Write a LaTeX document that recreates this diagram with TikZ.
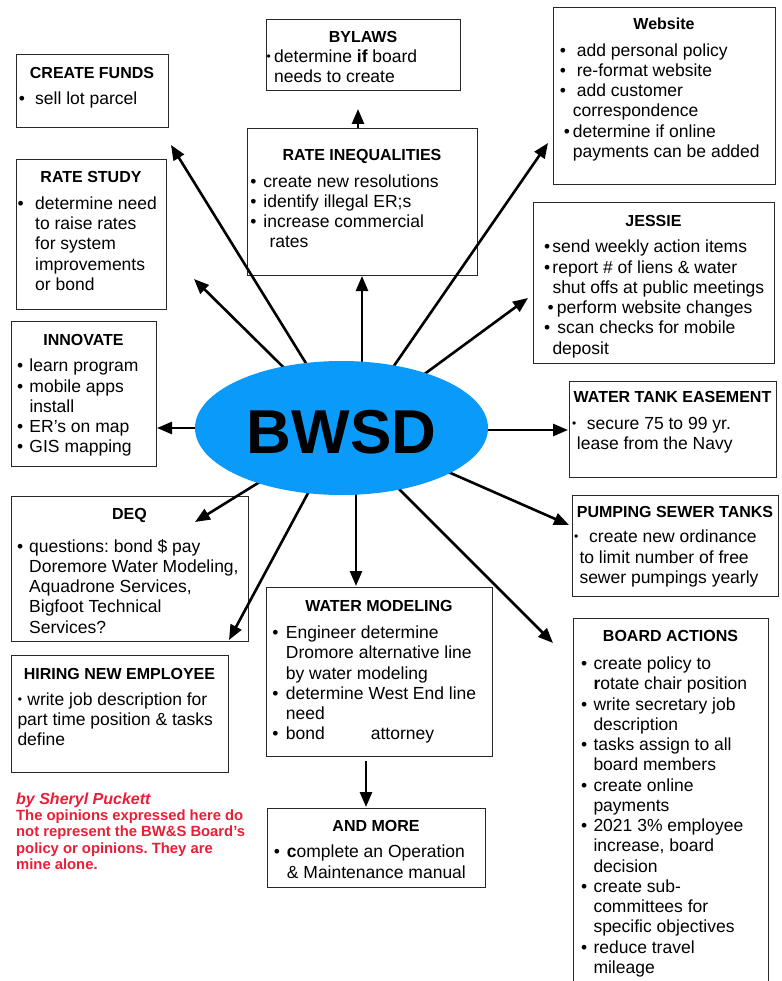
\documentclass[tikz,border=0pt]{standalone}
\usepackage{fontspec}
\setmainfont{Liberation Sans}
\usetikzlibrary{arrows.meta,shapes.geometric}
\definecolor{bwblue}{RGB}{10,155,250}
\definecolor{bwred}{RGB}{235,30,55}
\definecolor{boxline}{RGB}{40,40,40}
\frenchspacing
\newcommand\blkk[2]{\vtop{\baselineskip=#1pt\lineskiplimit=-30pt\lineskip=0pt\halign{##\hfil\cr#2\crcr}}}
\newcommand\bd[2]{\hspace*{#1pt}\makebox[0pt]{\textbullet}\hspace*{#2pt}}
\newcommand\sd[2]{\hspace*{#1pt}\makebox[0pt]{\raisebox{1.9pt}{\fontsize{12}{12}\selectfont\textbullet}}\hspace*{#2pt}}
\newcommand\ind[1]{\hspace*{#1pt}}
\tikzset{
  bx/.style={draw=boxline, line width=1.3pt, rectangle, inner sep=0pt, anchor=north west},
  ttl/.style={font=\bfseries\fontsize{16}{19}\selectfont, anchor=base, inner sep=0pt},
  bdy/.style={font=\fontsize{17.5}{20.25}\selectfont, anchor=base west, inner sep=0pt},
  arr/.style={line width=2.6pt, -{Triangle[length=15pt,width=12pt]}},
}
\begin{document}
\begin{tikzpicture}[x=1pt,y=-1pt]
\useasboundingbox (0,0) rectangle (781,981);
\clip (0,0) rectangle (781,981);

% ---------- boxes ----------
\node[bx, minimum width=152pt, minimum height=73pt] (cf) at (16,54) {};
\node[ttl] (cf-t) at (92,78.7) {CREATE FUNDS};
\node[bdy] (cf-b) at (21.7,104.5) {\blkk{20.25}{\bd{0}{13.3}sell lot parcel}};

\node[bx, minimum width=194pt, minimum height=71pt] (by) at (266,19) {};
\node[ttl] (by-t) at (363,43) {BYLAWS};
\node[bdy] (by-b) at (268.5,62.2) {\blkk{20.25}{\sd{0}{5.5}determine \textbf{if} board\cr \ind{5.5}needs to create}};

\node[bx, minimum width=230pt, minimum height=147pt] (ri) at (247,128) {};
\node[ttl] (ri-t) at (362,160.7) {RATE INEQUALITIES};
\node[bdy] (ri-b) at (253.3,187.2) {\blkk{20.25}{\bd{0}{10}create new resolutions\cr
\bd{0}{10}identify illegal ER;s\cr
\bd{0}{10}increase commercial\cr
\ind{16}rates}};

\node[bx, minimum width=150pt, minimum height=150pt] (rs) at (16,159) {};
\node[ttl] (rs-t) at (91,182.4) {RATE STUDY};
\node[bdy] (rs-b) at (20.5,209.5) {\blkk{20.25}{\bd{0}{14.5}determine need\cr
\ind{14.5}to raise rates\cr
\ind{14.5}for system\cr
\ind{14.5}improvements\cr
\ind{14.5}or bond}};

\node[bx, minimum width=222pt, minimum height=177pt] (web) at (553,7) {};
\node[ttl] (web-t) at (664,29.7) {Website};
\node[bdy] (web-b) at (562.7,56.2) {\blkk{20.25}{\bd{0}{14}add personal policy\cr
\bd{0}{14}re-format website\cr
\bd{0}{14}add customer\cr
\ind{10}correspondence\cr
\bd{4}{6}determine if online\cr
\ind{10}payments can be added}};

\node[bx, minimum width=241pt, minimum height=161pt] (jes) at (533,202) {};
\node[ttl] (jes-t) at (653.5,226.7) {JESSIE};
\node[bdy] (jes-b) at (547,252.8) {\blkk{20.25}{\bd{0}{5.3}send weekly action items\cr
\bd{0}{5.3}report \# of liens \& water\cr
\ind{5.3}shut offs at public meetings\cr
\bd{3.5}{6.2}perform website changes\cr
\bd{0}{10.3}scan checks for mobile\cr
\ind{5.3}deposit}};

\node[bx, minimum width=145pt, minimum height=145pt] (inn) at (11,321) {};
\node[ttl] (inn-t) at (83.5,345) {INNOVATE};
\node[bdy] (inn-b) at (20,371.8) {\blkk{20.25}{\bd{0}{9.3}learn program\cr
\bd{0}{9.3}mobile apps\cr
\ind{9.3}install\cr
\bd{0}{9.3}ER’s on map\cr
\bd{0}{9.3}GIS mapping}};

\node[bx, minimum width=207pt, minimum height=96pt] (wte) at (569,381) {};
\node[ttl] (wte-t) at (672.5,402.4) {WATER TANK EASEMENT};
\node[bdy] (wte-b) at (574,429.5) {\blkk{20.25}{\sd{0}{12.7}secure 75 to 99 yr.\cr
\ind{2.7}lease from the Navy}};

\node[bx, minimum width=206pt, minimum height=101pt] (pump) at (572,495) {};
\node[ttl] (pump-t) at (675,517.4) {PUMPING SEWER TANKS};
\node[bdy] (pump-b) at (576,542.8) {\blkk{20.25}{\sd{0}{13}create new ordinance\cr
\ind{3.3}to limit number of free\cr
\ind{3.3}sewer pumpings yearly}};

\node[bx, minimum width=237pt, minimum height=145pt] (deq) at (11,496) {};
\node[ttl] (deq-t) at (129.5,519) {DEQ};
\node[bdy] (deq-b) at (20,552.2) {\blkk{20.25}{\bd{0}{9}questions: bond \$ pay\cr
\ind{9}Doremore Water Modeling,\cr
\ind{9}Aquadrone Services,\cr
\ind{9}Bigfoot Technical\cr
\ind{9}Services?}};

\node[bx, minimum width=217pt, minimum height=117pt] (hire) at (11,655) {};
\node[ttl] (hire-t) at (119.5,679) {HIRING NEW EMPLOYEE};
\node[bdy] (hire-b) at (17.3,705.2) {\blkk{20.25}{\sd{2.5}{7.4}write job description for\cr
part time position \& tasks\cr
define}};

\node[bx, minimum width=226pt, minimum height=169pt] (wm) at (266,587) {};
\node[ttl] (wm-t) at (379,611.7) {WATER MODELING};
\node[bdy] (wm-b) at (275.3,638.5) {\blkk{20.25}{\bd{0}{10.4}Engineer determine\cr
\ind{10.4}Dromore alternative line\cr
\ind{10.4}by water modeling\cr
\bd{0}{10.4}determine West End line\cr
\ind{10.4}need\cr
\bd{0}{10.4}\rlap{bond}\hspace*{85pt}attorney}};

\node[bx, minimum width=218pt, minimum height=79pt] (am) at (267,808) {};
\node[ttl] (am-t) at (376,831.7) {AND MORE};
\node[bdy] (am-b) at (276.7,857.8) {\blkk{20.25}{\bd{0}{10}\textbf{c}omplete an Operation\cr
\ind{10}\& Maintenance manual}};

\node[bx, minimum width=195pt, minimum height=400pt] (ba) at (573,618) {};
\node[ttl] (ba-t) at (670.5,641.7) {BOARD ACTIONS};
\node[bdy] (ba-b) at (584,669.5) {\blkk{20.25}{\bd{0}{9.3}create policy to\cr
\ind{9.3}\textbf{r}otate chair position\cr
\bd{0}{9.3}write secretary job\cr
\ind{9.3}description\cr
\bd{0}{9.3}tasks assign to all\cr
\ind{9.3}board members\cr
\bd{0}{9.3}create online\cr
\ind{9.3}payments\cr
\bd{0}{9.3}2021 3\% employee\cr
\ind{9.3}increase, board\cr
\ind{9.3}decision\cr
\bd{0}{9.3}create sub-\cr
\ind{9.3}committees for\cr
\ind{9.3}specific objectives\cr
\bd{0}{9.3}reduce travel\cr
\ind{9.3}mileage}};

% ---------- author note ----------
\node[anchor=base west, inner sep=0pt, text=bwred, font=\bfseries\fontsize{14.8}{16.4}\selectfont] (note) at (16,804)
 {\blkk{16.4}{{\fontsize{16}{16}\selectfont\itshape by Sheryl Puckett}\cr
 The opinions expressed here do\cr
 not represent the BW\&S Board’s\cr
 policy or opinions. They are\cr
 mine alone.}};

% ---------- connectors ----------
\coordinate (sCF) at (346,428);  \coordinate (tCF) at (171,145);
\coordinate (sRS) at (345,428);  \coordinate (tRS) at (194,279);
\coordinate (tRI) at (362,276);
\coordinate (tBY) at (358,109);
\coordinate (sWEB) at (351,428); \coordinate (tWEB) at (548,143);
\coordinate (sJES) at (351,428); \coordinate (tJES) at (528,298);
\coordinate (sINN) at (300,428); \coordinate (tINN) at (157,428);
\coordinate (sWTE) at (400,430); \coordinate (tWTE) at (568,430);
\coordinate (sPUMP) at (348,428); \coordinate (tPUMP) at (569,525);
\coordinate (sDEQ) at (347,428); \coordinate (tDEQ) at (195,522);
\coordinate (sHIRE) at (343,428); \coordinate (tHIRE) at (229,640);
\coordinate (tWM) at (356,586);
\coordinate (sBA) at (338,428); \coordinate (tBA) at (553,643);
\coordinate (tAM) at (366,807);

\draw[arr] (sCF) -- (tCF);
\draw[arr] (sRS) -- (tRS);
\draw[arr] (sCF -| tRI) -- (tRI);
\draw[arr] (ri.north -| tBY) -- (tBY);
\draw[arr] (sWEB) -- (tWEB);
\draw[arr] (sJES) -- (tJES);
\draw[arr] (sINN) -- (tINN);
\draw[arr] (sWTE) -- (tWTE);
\draw[arr] (sPUMP) -- (tPUMP);
\draw[arr] (sDEQ) -- (tDEQ);
\draw[arr] (sHIRE) -- (tHIRE);
\draw[arr] (sCF -| tWM) -- (tWM);
\draw[arr] (sBA) -- (tBA);
\draw[arr] ([yshift=-4pt]wm.south -| tAM) -- (tAM);

% ---------- centre ----------
\node[ellipse, fill=bwblue, minimum width=293pt, minimum height=134pt, inner sep=0pt] (bwsd) at (341.5,428) {};
\node[anchor=base, inner sep=0pt, font=\bfseries\fontsize{62}{62}\selectfont] (bwsd-t) at (341.5,453) {BWSD};
\end{tikzpicture}
\end{document}
